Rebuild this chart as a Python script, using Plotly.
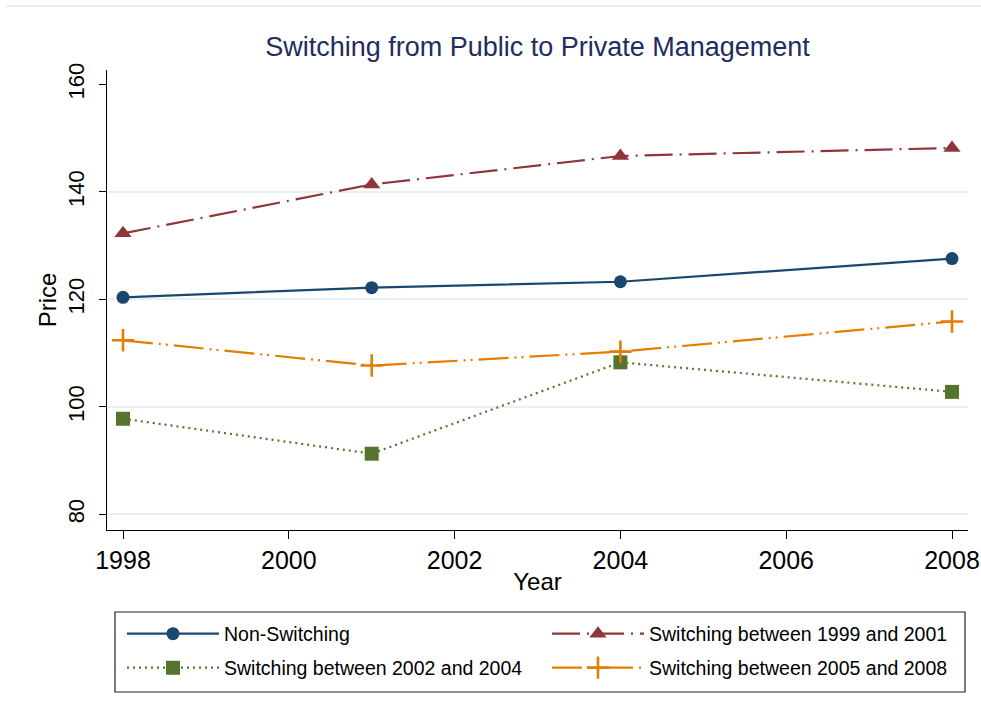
import plotly.graph_objects as go

years = [1998, 2001, 2004, 2008]
non_switching = [120.4, 122.2, 123.3, 127.6]
switch_1999_2001 = [132.3, 141.4, 146.7, 148.2]
switch_2002_2004 = [97.8, 91.3, 108.3, 102.8]
switch_2005_2008 = [112.4, 107.7, 110.3, 115.9]

series_names = [
    "Non-Switching",
    "Switching between 1999 and 2001",
    "Switching between 2002 and 2004",
    "Switching between 2005 and 2008",
]

x_ticks = [1998, 2000, 2002, 2004, 2006, 2008]
y_ticks = [80, 100, 120, 140, 160]
y_grid = [80, 100, 120, 140]

FONT = "Liberation Sans, Arial, sans-serif"
NAVY = "#1a476f"
MAROON = "#90353b"
GREEN = "#55752f"
ORANGE = "#e37e00"

W, H = 981, 718
L, R, T, B = 107, 13, 70, 188
PW = W - L - R
PH = H - T - B


def paper_y(py):
    return (T + PH - py) / PH


def paper_x(px):
    return (px - L) / PW


fig = go.Figure()

fig.add_trace(go.Scatter(
    x=years, y=non_switching, name=series_names[0], mode="lines+markers",
    line=dict(color=NAVY, width=2.2),
    marker=dict(symbol="circle", size=13, color=NAVY),
    legend="legend",
))
fig.add_trace(go.Scatter(
    x=years, y=switch_1999_2001, name=series_names[1], mode="lines+markers",
    line=dict(color=MAROON, width=2.2, dash="28px,7px,2px,7px"),
    marker=dict(symbol="triangle-up", size=15, color=MAROON),
    legend="legend2",
))
fig.add_trace(go.Scatter(
    x=years, y=switch_2002_2004, name=series_names[2], mode="lines+markers",
    line=dict(color=GREEN, width=2.2, dash="2px,4px"),
    marker=dict(symbol="square", size=14, color=GREEN),
    legend="legend3",
))
fig.add_trace(go.Scatter(
    x=years, y=switch_2005_2008, name=series_names[3], mode="lines+markers",
    line=dict(color=ORANGE, width=2.2, dash="30px,6px,2px,5px,2px,6px"),
    marker=dict(symbol="cross-thin", size=16, color=ORANGE,
                line=dict(color=ORANGE, width=2.6)),
    legend="legend4",
))


def legend_cell(px, py):
    return dict(
        orientation="h",
        x=paper_x(px), xanchor="left",
        y=paper_y(py), yanchor="middle",
        itemwidth=92,
        borderwidth=0, bgcolor="rgba(0,0,0,0)",
        font=dict(family=FONT, size=19.5, color="black"),
        itemclick=False, itemdoubleclick=False,
    )


fig.update_layout(
    width=W, height=H,
    margin=dict(l=L, r=R, t=T, b=B),
    paper_bgcolor="white", plot_bgcolor="white",
    font=dict(family=FONT, color="black"),
    title=dict(
        text="Switching from Public to Private Management",
        font=dict(family=FONT, size=27, color="#232c5e"),
        x=0.5, xref="paper", xanchor="center",
        y=1 - 47 / H, yref="container", yanchor="middle",
    ),
    showlegend=True,
    legend=legend_cell(122, 634),
    legend2=legend_cell(547, 634),
    legend3=legend_cell(122, 668),
    legend4=legend_cell(547, 668),
    xaxis=dict(
        range=[1997.807, 2008.193],
        tickvals=x_ticks, ticktext=[str(v) for v in x_ticks],
        ticks="outside", ticklen=8, tickwidth=1.3, tickcolor="black",
        showline=True, linecolor="black", linewidth=1.3,
        showgrid=False, zeroline=False, automargin=False,
        tickfont=dict(family=FONT, size=25, color="black"),
        title=dict(text="Year", font=dict(family=FONT, size=24, color="black"), standoff=0),
    ),
    yaxis=dict(
        range=[77.1, 162.7],
        tickvals=y_ticks, ticktext=[str(v) for v in y_ticks],
        ticks="outside", ticklen=7, tickwidth=1.3, tickcolor="black",
        showline=True, linecolor="black", linewidth=1.3,
        showgrid=False, zeroline=False, tickangle=-90, automargin=False,
        ticklabelstandoff=6,
        tickfont=dict(family=FONT, size=22, color="black"),
        title=dict(text="Price", font=dict(family=FONT, size=24, color="black"), standoff=0),
    ),
    yaxis2=dict(
        range=[77.1, 162.7], overlaying="y", side="left",
        tickvals=y_grid, showticklabels=False, ticks="",
        showgrid=True, gridcolor="#e9f0f2", gridwidth=2,
        showline=False, zeroline=False,
    ),
)

# legend frame
fig.add_shape(type="rect", xref="paper", yref="paper",
              x0=paper_x(115), x1=paper_x(965),
              y0=paper_y(692), y1=paper_y(612),
              line=dict(color="#222", width=1.2), fillcolor="rgba(0,0,0,0)")

# faint outer border line at the top of the graph region
fig.add_shape(type="line", xref="paper", yref="paper",
              x0=paper_x(6), x1=paper_x(W),
              y0=paper_y(6), y1=paper_y(6),
              line=dict(color="#e6eef0", width=2), layer="below")

# invisible trace on yaxis2 so the grid axis is drawn
fig.add_trace(go.Scatter(x=[years[0]], y=[y_grid[0]], yaxis="y2", mode="markers",
                         marker=dict(opacity=0), showlegend=False, hoverinfo="skip"))

fig.write_html(
    "out.html",
    config={"displayModeBar": False, "responsive": False},
    post_script="document.body.style.margin='0';document.body.style.overflow='hidden';",
)
